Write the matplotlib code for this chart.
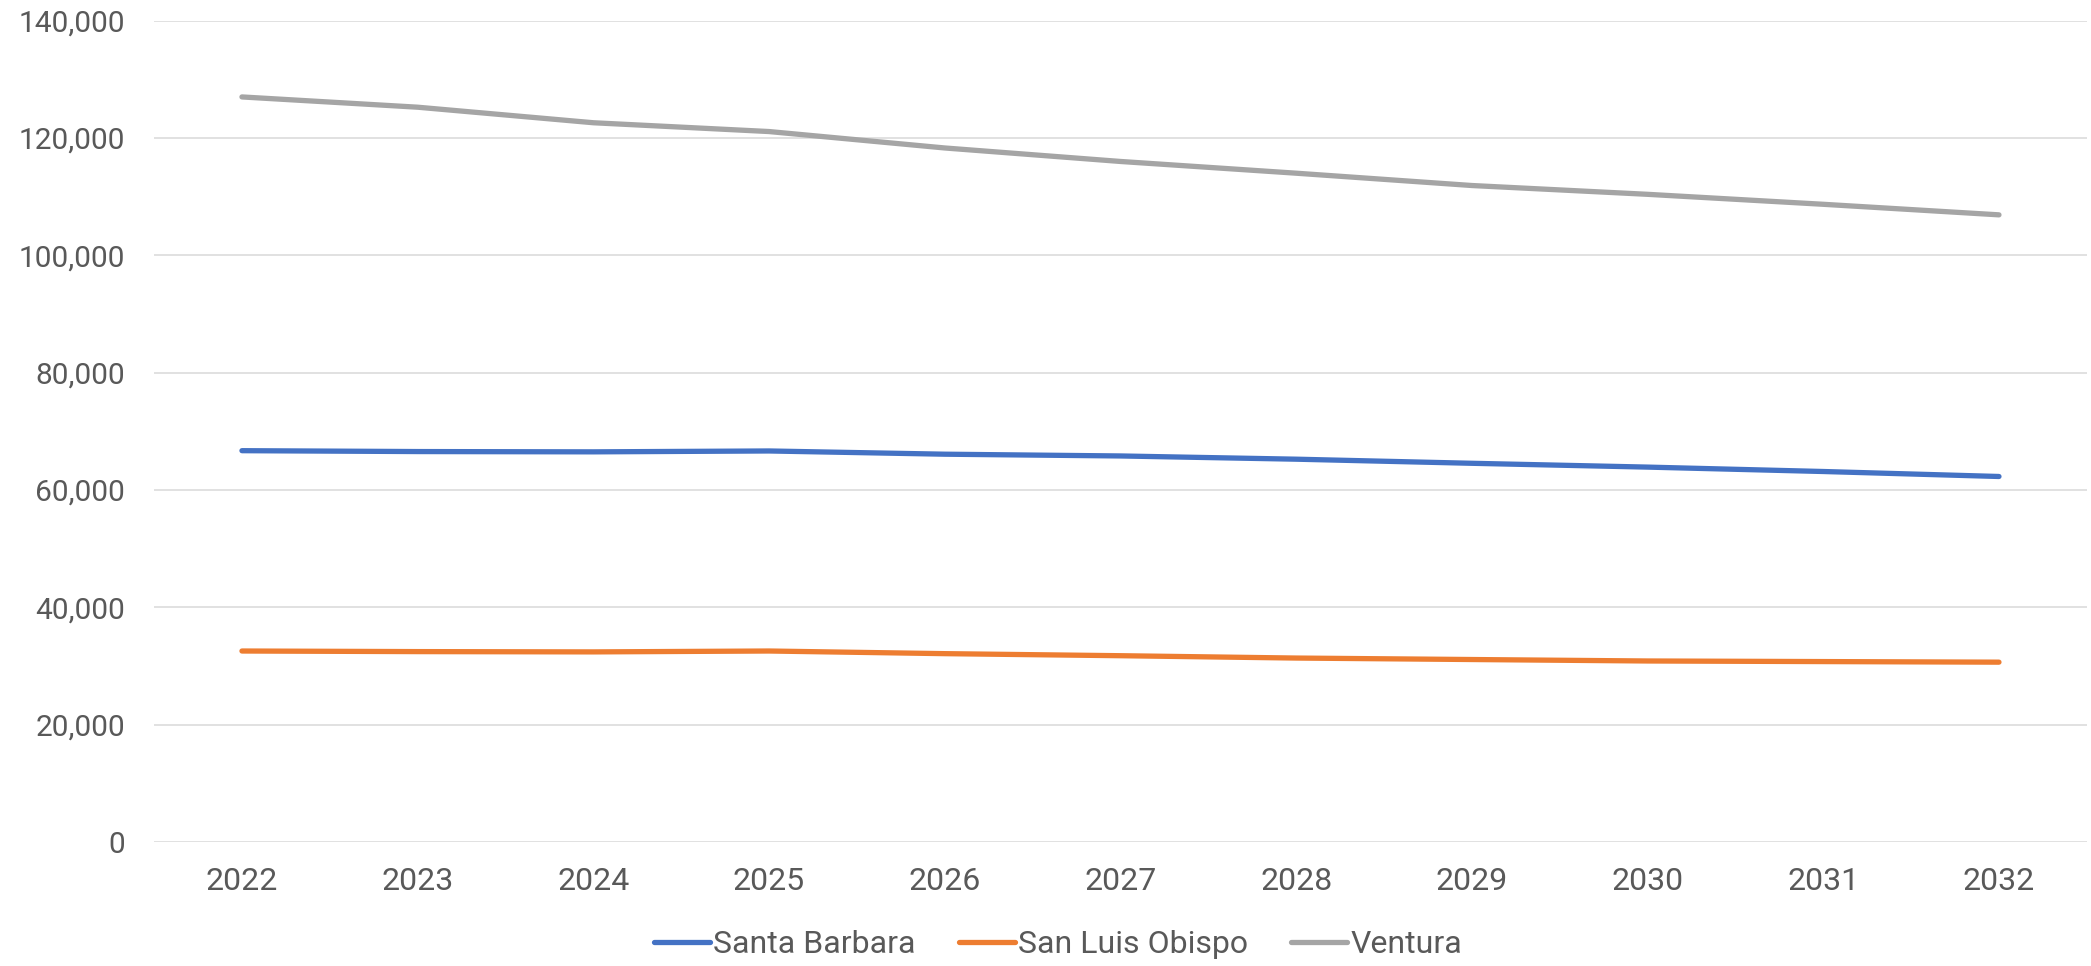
import matplotlib
matplotlib.use("Agg")
import matplotlib.pyplot as plt
from matplotlib.ticker import FuncFormatter

plt.rcParams['font.family'] = ['Roboto', 'DejaVu Sans']

years = [2022, 2023, 2024, 2025, 2026, 2027, 2028, 2029, 2030, 2031, 2032]
santa_barbara = [66700, 66550, 66500, 66650, 66100, 65800, 65250, 64550, 63900, 63150, 62300]
san_luis_obispo = [32550, 32450, 32400, 32550, 32100, 31750, 31350, 31100, 30850, 30750, 30650]
ventura = [127000, 125250, 122600, 121100, 118300, 116000, 114000, 111900, 110400, 108700, 106900]

series = [
    ('Santa Barbara', santa_barbara, '#4472C4'),
    ('San Luis Obispo', san_luis_obispo, '#ED7D31'),
    ('Ventura', ventura, '#A5A5A5'),
]

fig = plt.figure(figsize=(20.91, 9.66), dpi=100)
ax = fig.add_axes([0.0737, 0.1284, 0.9243, 0.8502])

for name, vals, col in series:
    ax.plot(years, vals, color=col, lw=3.8, label=name, solid_capstyle='round')

ax.set_xlim(2021.5, 2032.5)
ax.set_ylim(0, 140000)
ax.set_yticks(range(0, 140001, 20000))
ax.set_xticks(years)
ax.yaxis.set_major_formatter(FuncFormatter(lambda v, p: f'{int(v):,}'))
ax.grid(axis='y', color='#D9D9D9', lw=1.1)
ax.set_axisbelow(True)
for s in ax.spines.values():
    s.set_visible(False)
ax.tick_params(axis='both', length=0, labelcolor='#595959')
ax.tick_params(axis='y', pad=21, labelsize=21.5)
ax.tick_params(axis='x', pad=18, labelsize=23)

fig.legend(loc='center', bbox_to_anchor=(0.506, 0.022), ncol=3, frameon=False,
           fontsize=23, labelcolor='#595959', handlelength=1.75,
           handletextpad=0.1, columnspacing=1.35)

fig.savefig('out.png', dpi=100, facecolor='white')
